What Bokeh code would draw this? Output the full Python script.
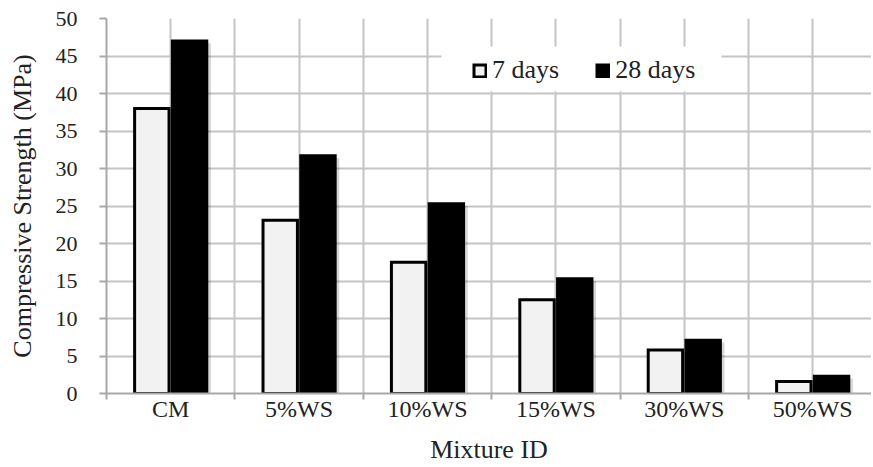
from bokeh.plotting import figure
from bokeh.models import Range1d, FixedTicker, Legend, LegendItem, BoxAnnotation
from bokeh.core.properties import value
from bokeh.embed import file_html
from bokeh.resources import INLINE

categories = ["CM", "5%WS", "10%WS", "15%WS", "30%WS", "50%WS"]
days7 = [38.0, 23.1, 17.5, 12.5, 5.8, 1.6]
days28 = [47.0, 31.7, 25.3, 15.3, 7.1, 2.3]
series_labels = ["7 days", "28 days"]
y_ticks = [0, 5, 10, 15, 20, 25, 30, 35, 40, 45, 50]

n = len(categories)
centers = [i + 0.5 for i in range(n)]
boundaries = list(range(n + 1))
half_steps = [k * 0.5 for k in range(2 * n + 1)]
off = 0.147
bw = 0.268

FONT = "Liberation Serif"
GRID = "#c4c4c4"
AXIS = "#a8a8a8"
TXT = "#222222"

p = figure(width=871, height=466, output_backend="svg", toolbar_location=None,
           x_range=Range1d(0, 5.958), y_range=Range1d(0, 50),
           min_border_left=106, min_border_right=0, min_border_top=18, min_border_bottom=73)
p.outline_line_color = None
p.background_fill_color = "white"

# grids
p.xgrid.ticker = FixedTicker(ticks=half_steps)
p.ygrid.ticker = FixedTicker(ticks=y_ticks)
for g in (p.xgrid, p.ygrid):
    g.grid_line_color = GRID
    g.grid_line_width = 2

# soft shadows behind bars
sx = 0.022
sy = 0.3
p.vbar(x=[c - off + sx for c in centers], top=[v - sy for v in days7], bottom=0,
       width=bw + 0.02, fill_color="black", fill_alpha=0.16, line_color=None)
p.vbar(x=[c + off + sx for c in centers], top=[v - sy for v in days28], bottom=0,
       width=bw + 0.02, fill_color="black", fill_alpha=0.16, line_color=None)

# bars
r7 = p.vbar(x=[c - off for c in centers], top=days7, bottom=0, width=bw,
            fill_color="#f2f2f2", line_color="black", line_width=3, line_join="miter")
r28 = p.vbar(x=[c + off for c in centers], top=days28, bottom=0, width=bw,
             fill_color="black", line_color="black", line_width=3, line_join="miter")

# x axis: labels at group centres, tick marks at group boundaries (minor ticks)
xa = p.xaxis[0]
xa.ticker = FixedTicker(ticks=centers, minor_ticks=boundaries)
xa.major_label_overrides = {c: name for c, name in zip(centers, categories)}
xa.major_tick_line_color = None
xa.major_tick_out = 0
xa.major_tick_in = 0
xa.minor_tick_out = 6
xa.minor_tick_in = 0
xa.minor_tick_line_color = AXIS
xa.minor_tick_line_width = 2
xa.axis_line_color = AXIS
xa.axis_line_width = 2
xa.major_label_standoff = -4
xa.major_label_text_font = FONT
xa.major_label_text_font_size = "24px"
xa.major_label_text_color = TXT
xa.axis_label = "Mixture ID"
xa.axis_label_text_font = FONT
xa.axis_label_text_font_size = "26px"
xa.axis_label_text_font_style = "normal"
xa.axis_label_text_color = TXT
xa.axis_label_standoff = 10

# y axis
ya = p.yaxis[0]
ya.ticker = FixedTicker(ticks=y_ticks)
ya.major_label_text_font = FONT
ya.major_label_text_font_size = "22px"
ya.major_label_text_color = TXT
ya.major_label_standoff = 22
ya.major_tick_out = 7
ya.major_tick_in = 0
ya.minor_tick_line_color = None
ya.axis_line_color = AXIS
ya.axis_line_width = 2
ya.major_tick_line_color = AXIS
ya.major_tick_line_width = 2
ya.axis_label = "Compressive Strength (MPa)"
ya.axis_label_text_font = FONT
ya.axis_label_text_font_size = "26px"
ya.axis_label_text_font_style = "normal"
ya.axis_label_text_color = TXT
ya.axis_label_standoff = 16

# legend backdrop (frame-relative screen units) and legend
box = BoxAnnotation(left=335, right=615, bottom=302, top=347,
                    left_units="screen", right_units="screen",
                    top_units="screen", bottom_units="screen",
                    fill_color="white", fill_alpha=1.0, line_color=None)
p.add_layout(box)

legend = Legend(items=[LegendItem(label=value(series_labels[0]), renderers=[r7]),
                       LegendItem(label=value(series_labels[1]), renderers=[r28])],
                orientation="horizontal", location=(366, 308),
                background_fill_alpha=0, border_line_color=None,
                glyph_width=15, glyph_height=15, label_standoff=5, spacing=36,
                padding=8, margin=0,
                label_text_font=FONT, label_text_font_size="26px", label_text_color=TXT)
p.add_layout(legend)

open("out.html", "w").write(file_html(p, INLINE))
